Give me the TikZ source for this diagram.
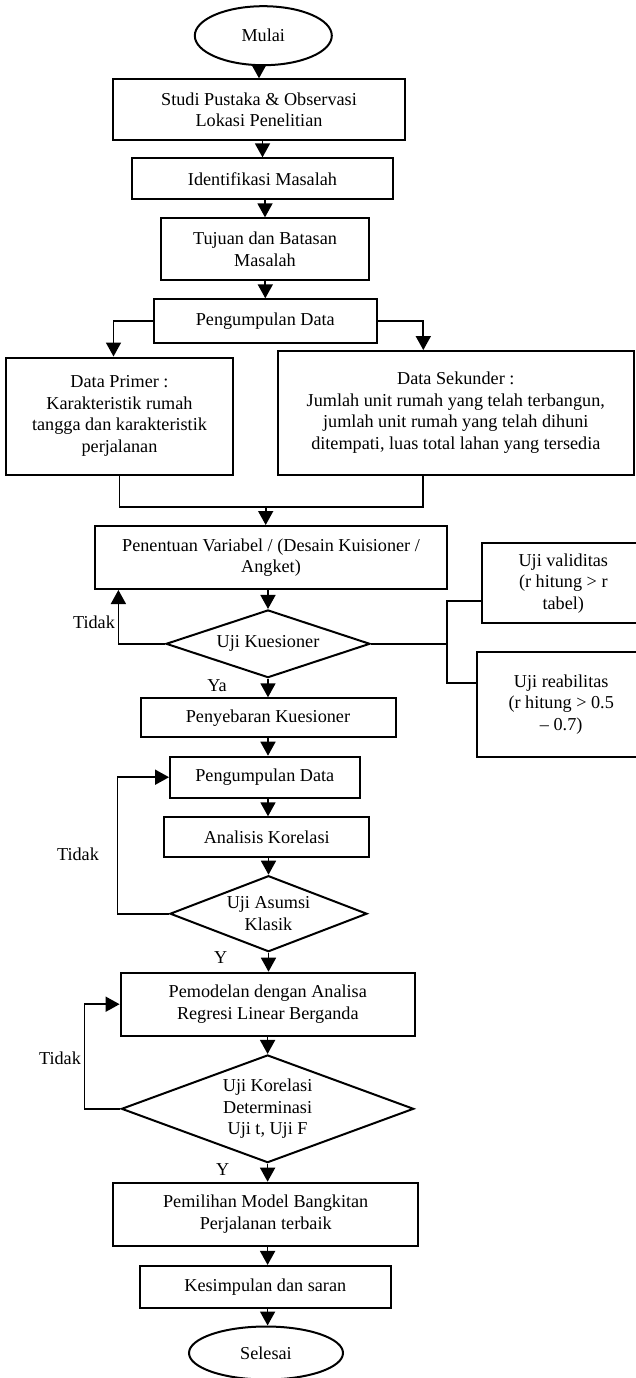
\documentclass[tikz,border=0pt]{standalone}
\usepackage{fontspec}
\setmainfont{Liberation Serif}
\usepackage{tikz}
\usetikzlibrary{shapes.geometric, arrows.meta}

\tikzset{
    kotak/.style={draw, line width=2pt, rectangle, inner sep=0pt, align=center},
    oval/.style={draw, line width=2pt, ellipse, inner sep=0pt, align=center},
    belah/.style={draw, line width=2pt, diamond, inner sep=0pt, align=center},
    panah/.style={line width=1.7pt, -{Triangle[width=15pt,length=14pt]}},
    garis/.style={line width=1.7pt}
}

\begin{document}
\begin{tikzpicture}[x=1pt, y=-1pt, font=\fontsize{18.2}{21.5}\selectfont]
            \useasboundingbox (0,0) rectangle (635,1378);

            % Start and first steps
            \node[oval, minimum width=137pt, minimum height=59pt] (mulai) at (263.3,35.7) {Mulai};
            \node[kotak, minimum width=292pt, minimum height=61pt] (studi) at (259,109.8) {Studi Pustaka \& Observasi\\Lokasi Penelitian};
            \node[kotak, minimum width=261pt, minimum height=40.7pt] (identifikasi) at (262.5,178.7) {Identifikasi Masalah};
            \node[kotak, minimum width=208pt, minimum height=61.7pt] (tujuan) at (265,249.2) {Tujuan dan Batasan\\Masalah};
            \node[kotak, minimum width=222.5pt, minimum height=43.4pt] (kumpul) at (265.3,321) {Pengumpulan Data};

            % Data boxes
            \node[kotak, minimum width=227pt, minimum height=117pt] (primer) at (119.5,416) {Data Primer :\\Karakteristik rumah\\tangga dan karakteristik\\perjalanan};
            \node[kotak, minimum width=356pt, minimum height=123.5pt] (sekunder) at (455.8,412.8) {Data Sekunder :\\Jumlah unit rumah yang telah terbangun,\\jumlah unit rumah yang telah dihuni\\ditempati, luas total lahan yang tersedia};
            \coordinate (gabung) at (265.7,506.7);

            % Questionnaire
            \node[kotak, minimum width=352pt, minimum height=63pt] (penentuan) at (271,557.5) {Penentuan Variabel / (Desain Kuisioner /\\Angket)};
            \node[belah, minimum width=204pt, minimum height=67.7pt, aspect=3] (ujikues) at (268,643.8) {Uji Kuesioner};
            \node[kotak, minimum width=163.3pt, minimum height=80pt] (validitas) at (563.3,583.3) {Uji validitas\\(r hitung > r\\tabel)};
            \node[kotak, minimum width=167.7pt, minimum height=105pt] (reabilitas) at (561.2,704.2) {Uji reabilitas\\(r hitung > 0.5\\– 0.7)};
            \coordinate (cabang) at (446.7,643.8);
            \node[kotak, minimum width=255pt, minimum height=39pt] (penyebaran) at (268,717.8) {Penyebaran Kuesioner};

            % Analysis
            \node[kotak, minimum width=189.5pt, minimum height=41pt] (kumpul2) at (264.8,777.2) {Pengumpulan Data};
            \node[kotak, minimum width=204.6pt, minimum height=39.4pt] (analisis) at (266.7,837) {Analisis Korelasi};
            \node[belah, minimum width=197pt, minimum height=76pt, aspect=2.6] (ujiasumsi) at (268.5,913.7) {Uji Asumsi\\Klasik};
            \node[kotak, minimum width=294.4pt, minimum height=63pt] (pemodelan) at (267.8,1004.2) {Pemodelan dengan Analisa\\Regresi Linear Berganda};
            \node[belah, minimum width=292.3pt, minimum height=107.7pt, aspect=2.7] (ujikor) at (267.6,1108.8) {Uji Korelasi\\Determinasi\\Uji t, Uji F};
            \node[kotak, minimum width=304.6pt, minimum height=63pt] (pemilihan) at (265.7,1214.2) {Pemilihan Model Bangkitan\\Perjalanan terbaik};
            \node[kotak, minimum width=251.3pt, minimum height=41.7pt] (kesimpulan) at (265.3,1286.8) {Kesimpulan dan saran};
            \node[oval, minimum width=154pt, minimum height=53pt] (selesai) at (266,1353) {Selesai};

            % Main arrows
            \draw[panah] (studi.north |- mulai.south) -- (studi.north);
            \draw[panah] (identifikasi.north |- studi.south) -- (identifikasi.north);
            \draw[panah] (tujuan.north |- identifikasi.south) -- (tujuan.north);
            \draw[panah] (kumpul.north |- tujuan.south) -- (kumpul.north);
            \draw[panah] (kumpul.west) -| ([xshift=-6pt]primer.north);
            \draw[panah] (kumpul.east) -| ([xshift=-32.5pt]sekunder.north);
            \draw[garis] (primer.south) |- (gabung) -| ([xshift=-32.5pt]sekunder.south);
            \draw[panah] (gabung) -- (gabung |- penentuan.north);
            \draw[panah] (ujikues.north |- penentuan.south) -- (ujikues.north);
            \draw[panah] (ujikues.south) -- (ujikues.south |- penyebaran.north);
            \draw[panah] (ujikues.south |- penyebaran.south) -- (ujikues.south |- kumpul2.north);
            \draw[panah] (ujikues.south |- kumpul2.south) -- (ujikues.south |- analisis.north);
            \draw[panah] (ujiasumsi.north |- analisis.south) -- (ujiasumsi.north);
            \draw[panah] (ujiasumsi.south) -- (ujiasumsi.south |- pemodelan.north);
            \draw[panah] (ujikor.north |- pemodelan.south) -- (ujikor.north);
            \draw[panah] (ujikor.south) -- (ujikor.south |- pemilihan.north);
            \draw[panah] (ujikor.south |- pemilihan.south) -- (ujikor.south |- kesimpulan.north);
            \draw[panah] (ujikor.south |- kesimpulan.south) -- (ujikor.south |- selesai.north);

            % Loops back
            \draw[panah] (ujikues.west) -| ([xshift=24.4pt]penentuan.south west);
            \draw[panah] (ujiasumsi.west) -- ++(-51.4,0) |- (kumpul2.west);
            \draw[panah] (ujikor.west) -- ++(-36,0) |- (pemodelan.west);

            % Test branches
            \draw[garis] (ujikues.east) -- (cabang);
            \draw[garis] ([yshift=-17.7pt]validitas.west) -| (cabang) |- ([yshift=20.9pt]reabilitas.west);

            % Labels
            \node (tidak1) at (94,622.7) {Tidak};
            \node (ya1) at (217,686) {Ya};
            \node (tidak2) at (78,854) {Tidak};
            \node (ya2) at (220.6,957.7) {Y};
            \node (tidak3) at (60,1058.3) {Tidak};
            \node (ya3) at (222.7,1169.3) {Y};
        \end{tikzpicture}
\end{document}
